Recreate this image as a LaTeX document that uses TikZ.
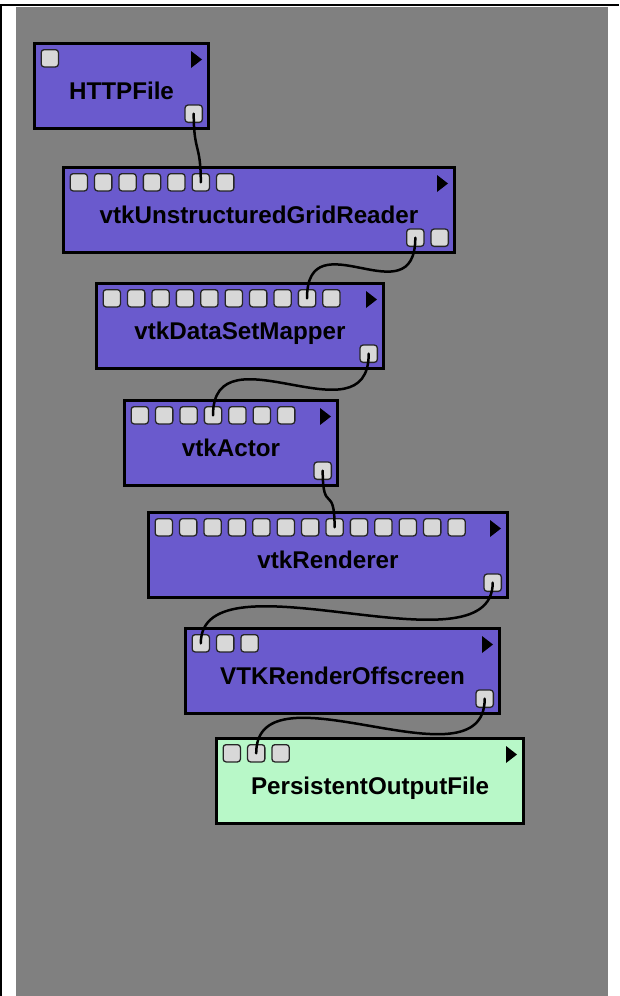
\documentclass[tikz,border=0pt]{standalone}
\usepackage{fontspec}
\setmainfont{Liberation Sans}
\usetikzlibrary{calc}
\definecolor{canvasgrey}{RGB}{128,128,128}
\definecolor{modpurple}{RGB}{106,90,205}
\definecolor{modgreen}{RGB}{184,248,200}
\definecolor{portgrey}{RGB}{216,216,216}
\begin{document}
\begin{tikzpicture}[x=1pt,y=-1pt,
  mod/.style={draw,line width=3pt,fill=modpurple,anchor=north west,minimum height=85pt,inner sep=0pt,
    text height=26pt,text depth=0pt,font=\fontsize{24.2}{28}\selectfont\bfseries},
  port/.style={draw=black!85,line width=1.3pt,fill=portgrey,rounded corners=3pt,minimum size=17.3pt,inner sep=0pt},
  wire/.style={line width=2.5pt,line cap=round}]
\useasboundingbox (0,0) rectangle (619,996);
% canvas
\fill[white] (0,0) rectangle (619,996);
\fill[canvasgrey] (16,7) rectangle (608,996);
\draw[line width=1.8pt] (0,5) -- (619,5); \draw[line width=1.8pt] (0.9,5) -- (0.9,996);
% modules
\node[mod,minimum width=174pt] (http) at (33,42) {HTTPFile};
\node[mod,minimum width=391pt] (ugr) at (62,166) {vtkUnstructuredGridReader};
\node[mod,minimum width=287pt] (dsm) at (95,282) {vtkDataSetMapper};
\node[mod,minimum width=213pt] (actor) at (123,399) {vtkActor};
\node[mod,minimum width=359pt] (ren) at (147,511) {vtkRenderer};
\node[mod,minimum width=314pt] (off) at (184,627) {VTKRenderOffscreen};
\node[mod,minimum width=307pt,fill=modgreen] (pof) at (215,737) {PersistentOutputFile};
% run triangles
\foreach \m in {http,ugr,dsm,actor,ren,off,pof}
  \fill ($(\m.north east)+(-19,9)$) -- ++(0,17) -- ++(11,-8.5) -- cycle;
% input ports
\foreach \m/\n in {http/1,ugr/7,dsm/10,actor/7,ren/13,off/3,pof/3}
  \foreach \i in {1,...,\n}
    \node[port,anchor=north west] (\m-in\i) at ($(\m.north west)+(7.5+24.4*\i-24.4,7)$) {};
% output ports
\node[port,anchor=south east] (http-out1) at ($(http.south east)+(-7,-7)$) {};
\node[port,anchor=south east] (ugr-out1) at ($(ugr.south east)+(-31.4,-7)$) {};
\node[port,anchor=south east] (ugr-out2) at ($(ugr.south east)+(-7,-7)$) {};
\node[port,anchor=south east] (dsm-out1) at ($(dsm.south east)+(-7,-7)$) {};
\node[port,anchor=south east] (actor-out1) at ($(actor.south east)+(-7,-7)$) {};
\node[port,anchor=south east] (ren-out1) at ($(ren.south east)+(-7,-7)$) {};
\node[port,anchor=south east] (off-out1) at ($(off.south east)+(-7,-7)$) {};
% connections
\draw[wire] (http-out1.center) .. controls +(0,39) and +(0,-39) .. (ugr-in6.center);
\draw[wire] (ugr-out1.center) .. controls +(0,82) and +(0,-82) .. (dsm-in9.center);
\draw[wire] (dsm-out1.center) .. controls +(0,90) and +(0,-90) .. (actor-in4.center);
\draw[wire] (actor-out1.center) .. controls +(0,45) and +(0,-45) .. (ren-in8.center);
\draw[wire] (ren-out1.center) .. controls +(0,95) and +(0,-95) .. (off-in1.center);
\draw[wire] (off-out1.center) .. controls +(0,94) and +(0,-94) .. (pof-in2.center);
\end{tikzpicture}
\end{document}
